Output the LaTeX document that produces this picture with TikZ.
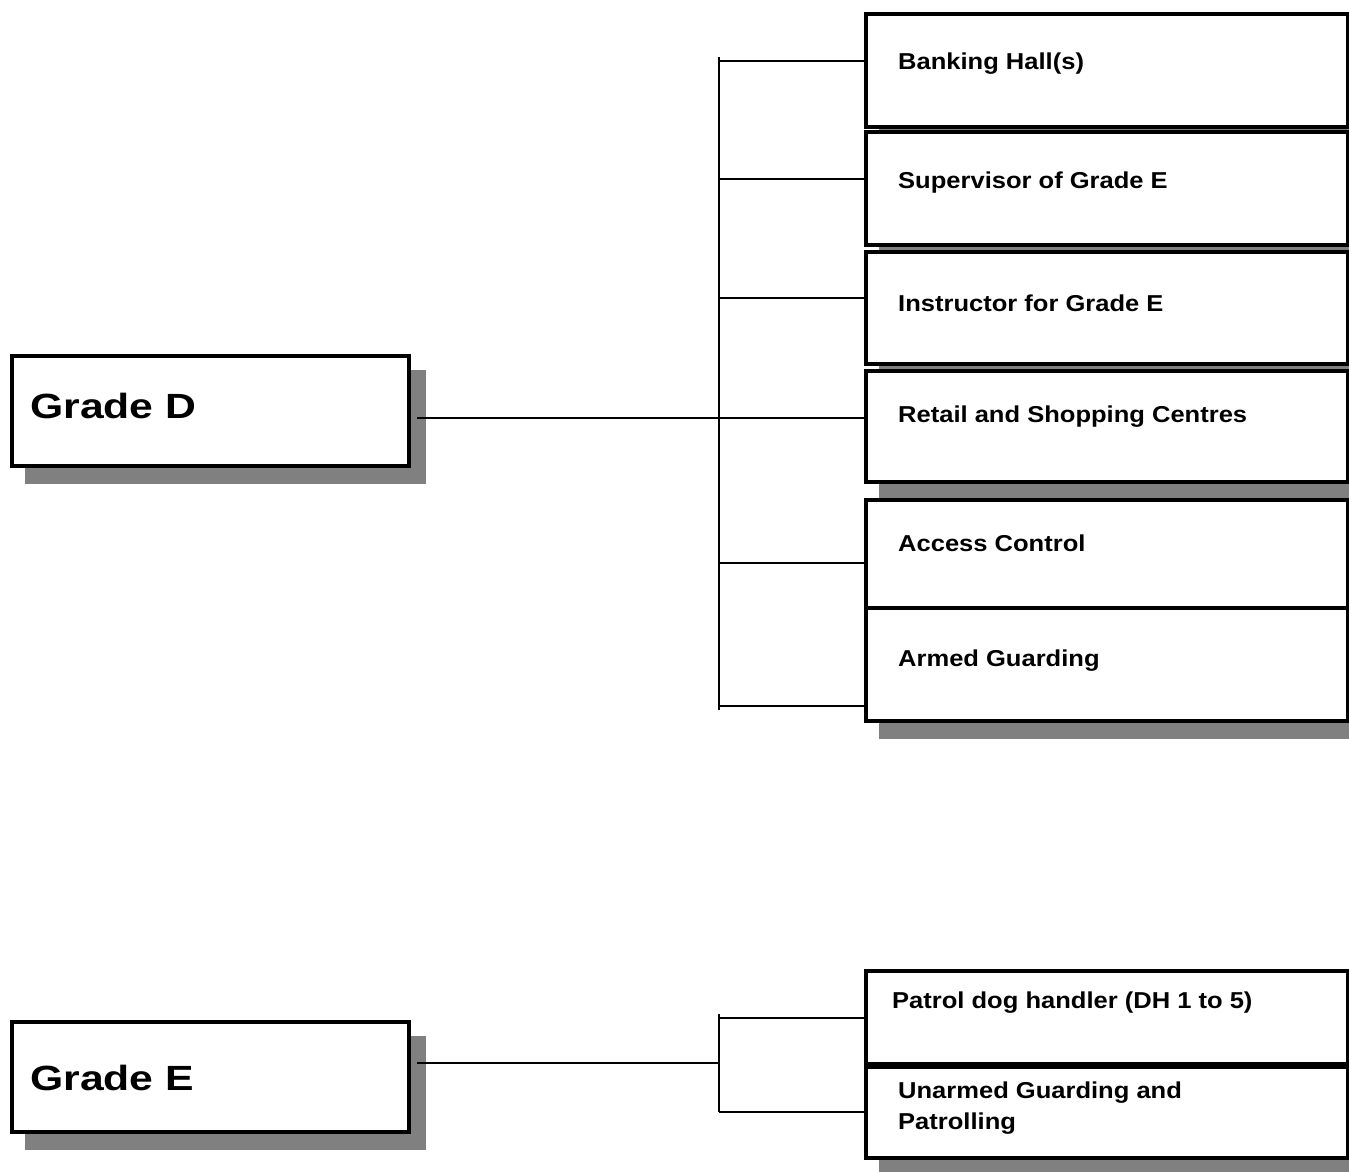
\documentclass[tikz,border=0pt]{standalone}
\usepackage{fontspec}
\setmainfont{Liberation Sans}
\newfontfamily\itemfont[FakeStretch=1.11]{Liberation Sans}
\newfontfamily\gradefont[FakeStretch=1.22]{Liberation Sans}
\usetikzlibrary{shadows}

\begin{document}
\begin{tikzpicture}[x=1pt, y=-1pt,
    boxshadow/.style={drop shadow={shadow xshift=15pt, shadow yshift=-16pt, opacity=1,
        fill=black!50, draw=black!50, line width=4pt}},
    gradebox/.style={draw, line width=4pt, fill=white, anchor=north west,
        minimum width=397pt, minimum height=110pt, inner sep=0pt, boxshadow},
    itembox/.style={draw, line width=4pt, fill=white, anchor=north west,
        minimum width=482pt, inner sep=0pt, boxshadow},
    gradetext/.style={anchor=west, inner sep=0pt, font=\gradefont\bfseries\fontsize{35}{40}\selectfont},
    itemtext/.style={anchor=west, inner sep=0pt, align=left, font=\itemfont\bfseries\fontsize{23}{31}\selectfont},
    link/.style={line width=1.8pt}]
    \useasboundingbox (0,0) rectangle (1349,1171);

    % Grade D
    \node[gradebox] (gradeD) at (10,354) {};
    \node[gradetext] (gradeDtext) at (30,406) {Grade D};

    \node[itembox, minimum height=113pt] (bank) at (864,12) {};
    \node[itembox, minimum height=113pt] (super) at (864,130) {};
    \node[itembox, minimum height=112pt] (instr) at (864,250) {};
    \node[itembox, minimum height=111pt] (retail) at (864,369) {};
    \node[itembox, minimum height=108pt] (access) at (864,498) {};
    \node[itembox, minimum height=113pt] (armed) at (864,606) {};

    \node[itemtext] (banktext) at (898,64) {Banking Hall(s)};
    \node[itemtext] (supertext) at (898,183) {Supervisor of Grade E};
    \node[itemtext] (instrtext) at (898,303) {Instructor for Grade E};
    \node[itemtext] (retailtext) at (898,417) {Retail and Shopping Centres};
    \node[itemtext] (accesstext) at (898,543) {Access Control};
    \node[itemtext] (armedtext) at (898,661) {Armed Guarding};

    % bus for Grade D
    \coordinate (dTop) at (719,57);
    \coordinate (dBot) at (719,710);
    \coordinate (dJoin) at (719,418);
    \draw[link] (dTop) -- (dBot);
    \draw[link] ([xshift=6pt]gradeD.east |- dJoin) -- (retail.west |- dJoin);
    \foreach \nm/\yy in {bank/61, super/179, instr/298, access/563, armed/706} {
        \coordinate (d\nm) at (719,\yy);
        \draw[link] (d\nm) -- (\nm.west |- d\nm);
    }

    % Grade E
    \node[gradebox] (gradeE) at (10,1020) {};
    \node[gradetext] (gradeEtext) at (30,1078) {Grade E};

    \node[itembox, minimum height=93pt] (dog) at (864,969) {};
    \node[itembox, minimum height=91pt] (unarmed) at (864,1065) {};

    \node[itemtext] (dogtext) at (892,1003) {Patrol dog handler (DH 1 to 5)};
    \node[itemtext] (unarmedtext) at (898,1108) {Unarmed Guarding and\\Patrolling};

    % bus for Grade E
    \coordinate (eTop) at (719,1014);
    \coordinate (eBot) at (719,1112);
    \coordinate (eJoin) at (719,1063);
    \draw[link] (eTop) -- (eBot);
    \draw[link] ([xshift=6pt]gradeE.east |- eJoin) -- (eJoin);
    \coordinate (edog) at (719,1018);
    \draw[link] (edog) -- (dog.west |- edog);
    \draw[link] (eBot) -- (unarmed.west |- eBot);
\end{tikzpicture}
\end{document}
